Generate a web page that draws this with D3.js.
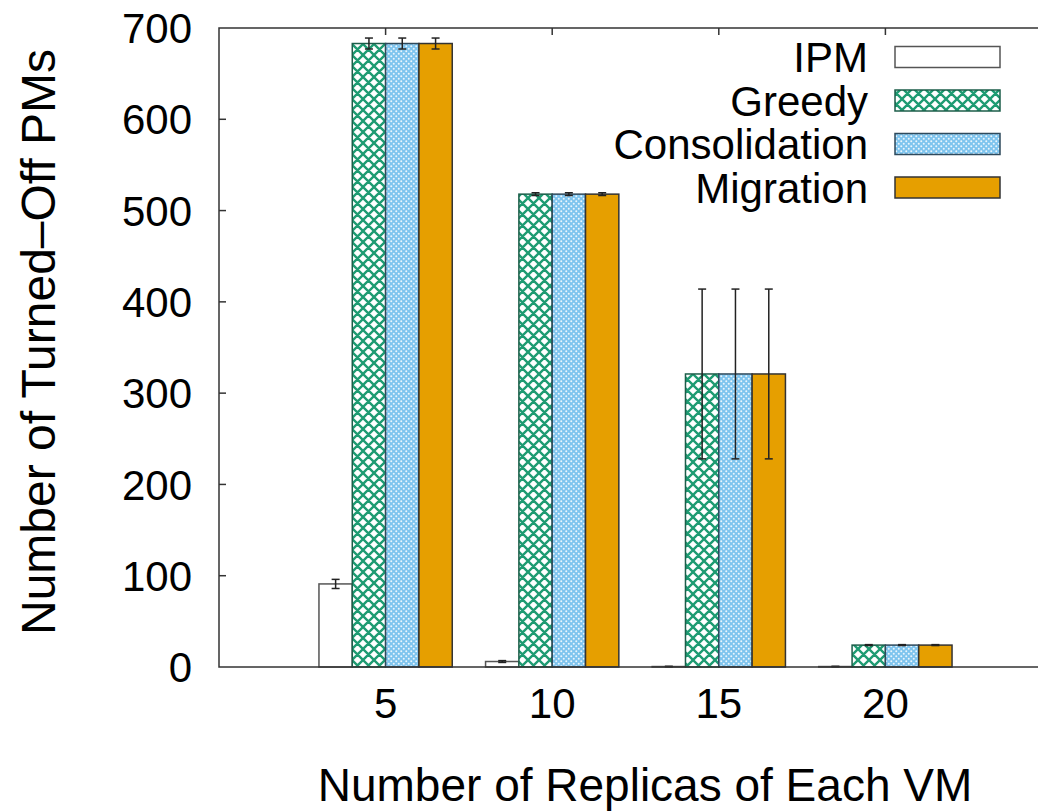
<!DOCTYPE html>
<html>
<head>
<meta charset="utf-8">
<script src="https://cdn.jsdelivr.net/npm/d3@7"></script>
<style>
  body { margin: 0; background: #fff; }
  svg text { font-family: "Liberation Sans", Arial, sans-serif; fill: #000; }
</style>
</head>
<body>
<div id="chart"></div>
<script>
// data
var replicas = ["5", "10", "15", "20"];
var seriesNames = ["IPM", "Greedy", "Consolidation", "Migration"];
var ipmValues = [91, 6, 0.5, 0.5];
var ipmErrors = [5, 1, 0.3, 0.3];
var greedyValues = [683, 518, 321, 24];
var greedyErrors = [6, 1.5, 93, 0.5];
var consolidationValues = [683, 518, 321, 24];
var consolidationErrors = [6, 1.5, 93, 0.5];
var migrationValues = [683, 518, 321, 24];
var migrationErrors = [6, 1.5, 93, 0.5];
var yTicks = [0, 100, 200, 300, 400, 500, 600, 700];

var seriesValues = [ipmValues, greedyValues, consolidationValues, migrationValues];
var seriesErrors = [ipmErrors, greedyErrors, consolidationErrors, migrationErrors];

var width = 1038, height = 812;
var margin = {left: 219, top: 28, bottom: 145};
var plotRight = 1052;

var svg = d3.select("#chart").append("svg")
    .attr("width", width)
    .attr("height", height);

var defs = svg.append("defs");

// crosshatch for Greedy
var p1 = defs.append("pattern")
    .attr("id", "hatchGreedy")
    .attr("patternUnits", "userSpaceOnUse")
    .attr("width", 11).attr("height", 11);
p1.append("rect").attr("width", 11).attr("height", 11).attr("fill", "#fff");
p1.append("path")
    .attr("d", "M0,0L11,11M0,11L11,0M-1,1L1,-1M10,12L12,10M-1,10L1,12M10,-1L12,1")
    .attr("stroke", "#1e9b72").attr("stroke-width", 2.4);

// fine dots for Consolidation
var p2 = defs.append("pattern")
    .attr("id", "dotsCons")
    .attr("patternUnits", "userSpaceOnUse")
    .attr("width", 5).attr("height", 5);
p2.append("rect").attr("width", 5).attr("height", 5).attr("fill", "#7ec4ee");
p2.append("circle").attr("cx", 1.25).attr("cy", 1.25).attr("r", 1).attr("fill", "#eaf6fd");
p2.append("circle").attr("cx", 3.75).attr("cy", 3.75).attr("r", 1).attr("fill", "#eaf6fd");

var fills = ["#fff", "url(#hatchGreedy)", "url(#dotsCons)", "#e69f00"];
var strokes = ["#555", "#1d5e4a", "#2f4a5c", "#333"];

var x = d3.scaleLinear().domain([0, 5]).range([margin.left, plotRight]);
var y = d3.scaleLinear().domain([0, 700]).range([height - margin.bottom, margin.top]);
var groupW = x(1) - x(0);
var barW = groupW / 5;

// bars
seriesNames.forEach(function(name, j){
    svg.append("g").selectAll("rect")
        .data(seriesValues[j])
        .enter().append("rect")
        .attr("x", function(d, i){ return x(i + 1) + (j - 2) * barW; })
        .attr("y", function(d){ return y(d); })
        .attr("width", barW)
        .attr("height", function(d){ return y(0) - y(d); })
        .attr("fill", fills[j])
        .attr("stroke", strokes[j])
        .attr("stroke-width", 1.5);
});

// error bars
seriesNames.forEach(function(name, j){
    var g = svg.append("g").attr("stroke", "#222").attr("stroke-width", 1.5);
    seriesValues[j].forEach(function(v, i){
        var e = seriesErrors[j][i];
        var cx = x(i + 1) + (j - 1.5) * barW;
        g.append("line").attr("x1", cx).attr("x2", cx)
            .attr("y1", y(v - e)).attr("y2", y(v + e));
        [v - e, v + e].forEach(function(t){
            g.append("line").attr("x1", cx - 4).attr("x2", cx + 4)
                .attr("y1", y(t)).attr("y2", y(t));
        });
    });
});

// frame
svg.append("rect")
    .attr("x", margin.left).attr("y", margin.top)
    .attr("width", plotRight - margin.left)
    .attr("height", y(0) - margin.top)
    .attr("fill", "none").attr("stroke", "#333").attr("stroke-width", 1.5);

// y axis
var yAxis = svg.append("g");
yTicks.forEach(function(t){
    if (t > 0 && t < 700) {
        yAxis.append("line").attr("x1", margin.left).attr("x2", margin.left + 7)
            .attr("y1", y(t)).attr("y2", y(t))
            .attr("stroke", "#333").attr("stroke-width", 1.5);
    }
    yAxis.append("text")
        .attr("x", 192).attr("y", y(t))
        .attr("dy", "0.36em")
        .attr("text-anchor", "end")
        .style("font-size", "42px")
        .text(t);
});

// x axis
var xAxis = svg.append("g");
replicas.forEach(function(r, i){
    xAxis.append("line").attr("x1", x(i + 1)).attr("x2", x(i + 1))
        .attr("y1", margin.top).attr("y2", margin.top + 7)
        .attr("stroke", "#333").attr("stroke-width", 1.5);
    xAxis.append("text")
        .attr("x", x(i + 1)).attr("y", 718)
        .attr("text-anchor", "middle")
        .style("font-size", "42px")
        .text(r);
});

svg.append("text")
    .attr("x", 645).attr("y", 801)
    .attr("text-anchor", "middle")
    .style("font-size", "46px")
    .text("Number of Replicas of Each VM");

svg.append("text")
    .attr("transform", "translate(55,342) rotate(-90)")
    .attr("text-anchor", "middle")
    .style("font-size", "48px")
    .text("Number of Turned\u2013Off PMs");

// legend
var legend = svg.append("g").attr("class", "legend");
seriesNames.forEach(function(name, j){
    var cy = 57 + j * 43.5;
    legend.append("text")
        .attr("x", 868).attr("y", cy)
        .attr("dy", "0.36em")
        .attr("text-anchor", "end")
        .style("font-size", "42px")
        .text(name);
    legend.append("rect")
        .attr("x", 895).attr("y", cy - 10.5)
        .attr("width", 105).attr("height", 21)
        .attr("fill", fills[j])
        .attr("stroke", strokes[j])
        .attr("stroke-width", 1.5);
});
</script>
</body>
</html>
